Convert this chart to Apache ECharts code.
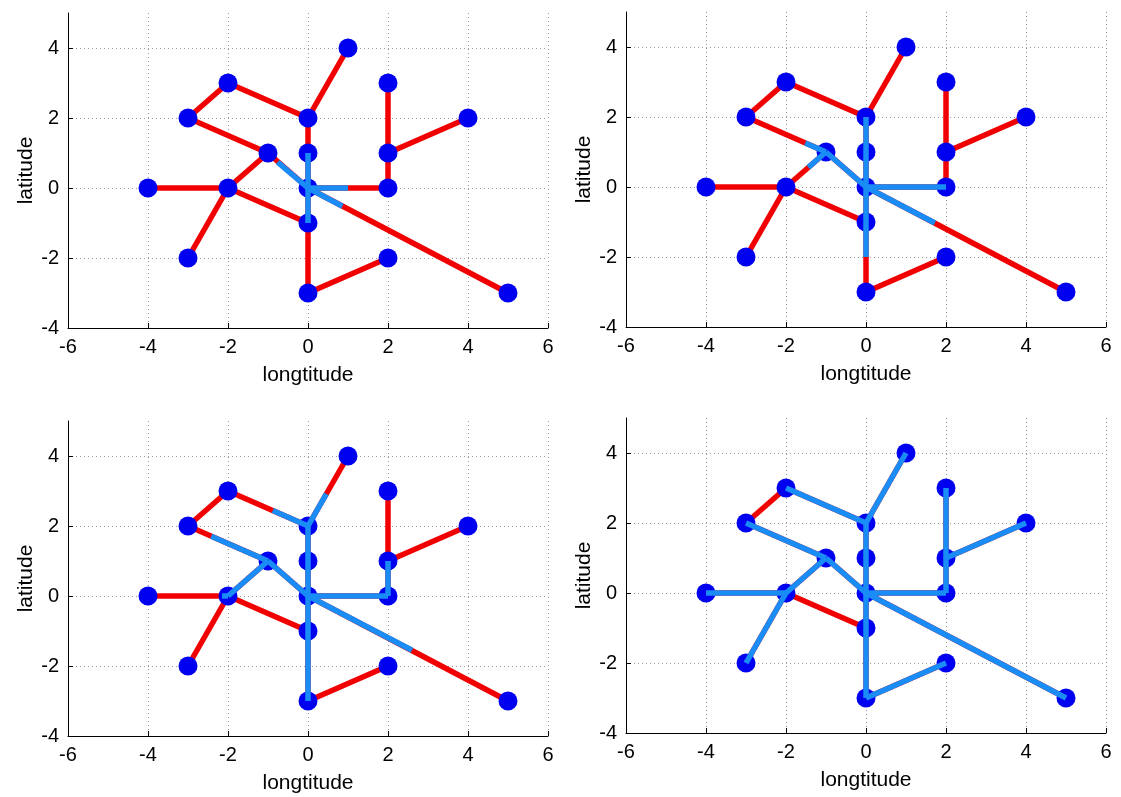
<!DOCTYPE html>
<html>
<head>
<meta charset="utf-8">
<script src="https://cdn.jsdelivr.net/npm/echarts@6/dist/echarts.min.js"></script>
<style>
  html, body { margin: 0; padding: 0; background: #fff; }
  #myChart { width: 1121px; height: 797px; }
</style>
</head>
<body>
<div id="myChart"></div>
<script>
// node positions (longtitude, latitude)
var nodes = [
  [1, 4], [2, 3], [-2, 3], [-3, 2], [0, 2], [4, 2],
  [2, 1], [-1, 1], [0, 1], [-4, 0], [-2, 0], [0, 0],
  [2, 0], [-3, -2], [0, -1], [2, -2], [0, -3], [5, -3]
];

// network edges, red
var edges = [
  [[0, 2], [1, 4]], [[0, 2], [-2, 3]], [[-2, 3], [-3, 2]], [[-3, 2], [-1, 1]],
  [[-1, 1], [0, 0]], [[-1, 1], [-2, 0]], [[-4, 0], [-2, 0]], [[-2, 0], [-3, -2]],
  [[-2, 0], [0, -1]], [[0, 2], [0, 0]], [[0, 0], [0, -3]], [[0, -3], [2, -2]],
  [[0, 0], [2, 0]], [[2, 0], [2, 1]], [[2, 1], [2, 3]], [[2, 1], [4, 2]],
  [[0, 0], [5, -3]]
];

// reached parts of the network, blue, one list per panel
var blue1 = [
  [[0, 0], [0, 1]], [[0, 0], [0, -1]], [[0, 0], [1, 0]],
  [[0, 0], [-0.76, 0.74]], [[0, 0], [0.86, -0.52]]
];
var blue2 = [
  [[0, 2], [0, -2]], [[0, 0], [2, 0]], [[0, 0], [-1, 1]],
  [[-1, 1], [-1.52, 1.26]], [[-1, 1], [-1.44, 0.56]], [[0, 0], [1.72, -1.03]]
];
var blue3 = [
  [[0, 2], [0, -3]], [[0, 2], [0.46, 2.92]], [[0, 2], [-0.88, 2.44]],
  [[0, 0], [2, 0]], [[2, 0], [2, 1]], [[0, 0], [-1, 1]],
  [[-1, 1], [-2.42, 1.71]], [[-1, 1], [-2, 0]], [[-2, 0], [-2.15, 0]],
  [[0, 0], [2.6, -1.55]]
];
var blue4 = [
  [[0, 2], [1, 4]], [[0, 2], [-2, 3]], [[-3, 2], [-1, 1]],
  [[-1, 1], [0, 0]], [[-1, 1], [-2, 0]], [[-4, 0], [-2, 0]], [[-2, 0], [-3, -2]],
  [[0, 2], [0, 0]], [[0, 0], [0, -3]], [[0, -3], [2, -2]],
  [[0, 0], [2, 0]], [[2, 0], [2, 1]], [[2, 1], [2, 3]], [[2, 1], [4, 2]],
  [[0, 0], [5, -3]]
];
var blueSets = [blue1, blue2, blue3, blue4];

var xTicks = [-6, 6, 2];   // min, max, step
var yTicks = [-4, 5, 2];

var panels = [
  { left: 68, top: 13 },
  { left: 626, top: 12 },
  { left: 68, top: 421 },
  { left: 626, top: 418 }
];

var font = 'Liberation Sans, Arial, sans-serif';
var myChart = echarts.init(document.getElementById('myChart'));

var grids = [], xAxes = [], yAxes = [], series = [];
panels.forEach(function (p, i) {
  grids.push({ left: p.left, top: p.top, width: 480, height: 315 });
  xAxes.push({
    type: 'value', gridIndex: i,
    min: xTicks[0], max: xTicks[1], interval: xTicks[2],
    name: 'longtitude', nameLocation: 'middle', nameGap: 37,
    nameTextStyle: { fontSize: 21, color: '#000', fontFamily: font },
    axisLine: { onZero: false, lineStyle: { color: '#000', width: 1 } },
    axisTick: { inside: true, length: 5, lineStyle: { color: '#000' } },
    axisLabel: { fontSize: 20, color: '#000', fontFamily: font, margin: 9 },
    splitLine: { show: true, showMinLine: false, lineStyle: { color: '#9a9a9a', type: [1, 3], width: 1 } }
  });
  yAxes.push({
    type: 'value', gridIndex: i,
    min: yTicks[0], max: yTicks[1], interval: yTicks[2],
    name: 'latitude', nameLocation: 'middle', nameGap: 31, nameRotate: 90,
    nameTextStyle: { fontSize: 21, color: '#000', fontFamily: font },
    axisLine: { onZero: false, lineStyle: { color: '#000', width: 1 } },
    axisTick: { inside: true, length: 5, lineStyle: { color: '#000' } },
    axisLabel: {
      fontSize: 20, color: '#000', fontFamily: font, margin: 9,
      showMaxLabel: false,
      formatter: function (v) { return v > 4.5 ? '' : String(v); }
    },
    splitLine: { show: true, showMinLine: false, showMaxLine: false, lineStyle: { color: '#9a9a9a', type: [1, 3], width: 1 } }
  });
  series.push({
    type: 'lines', coordinateSystem: 'cartesian2d', xAxisIndex: i, yAxisIndex: i,
    z: 1, silent: true,
    lineStyle: { color: '#f00000', width: 5.5, opacity: 1 },
    data: edges.map(function (e) { return { coords: e }; })
  });
  series.push({
    type: 'scatter', xAxisIndex: i, yAxisIndex: i, z: 2, silent: true,
    symbolSize: 19,
    itemStyle: { color: '#0000f0', opacity: 1 },
    data: nodes
  });
  series.push({
    type: 'lines', coordinateSystem: 'cartesian2d', xAxisIndex: i, yAxisIndex: i,
    z: 3, silent: true,
    lineStyle: { color: '#1a8cf5', width: 5.5, opacity: 1 },
    data: blueSets[i].map(function (e) { return { coords: e }; })
  });
});

myChart.setOption({
  animation: false,
  grid: grids,
  xAxis: xAxes,
  yAxis: yAxes,
  series: series
});
</script>
</body>
</html>
